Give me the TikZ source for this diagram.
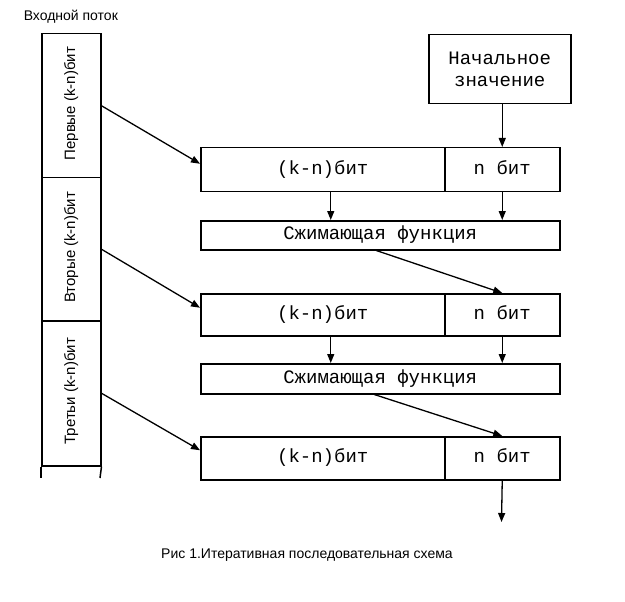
\documentclass[tikz,border=0pt]{standalone}
\usepackage{fontspec}
\setmainfont{Liberation Sans}
\newfontfamily\monofnt{Liberation Mono}
\usetikzlibrary{arrows.meta}
\begin{document}
\begin{tikzpicture}[x=1pt,y=-1pt,
  line width=1.5pt,
  arr/.style={line width=1.3pt,-{Triangle[length=9pt,width=7pt]}},
  seg/.style={draw,minimum width=59pt,inner sep=0pt,anchor=north west},
  rowbox/.style={draw,inner sep=0pt,anchor=north west,text height=13pt,text depth=4pt,font=\monofnt\fontsize{19}{22}\selectfont},
  sidelbl/.style={rotate=90,font=\fontsize{15}{17}\selectfont,inner sep=0pt},
  capt/.style={font=\fontsize{14}{16}\selectfont,inner sep=0pt}]
\useasboundingbox (0,0) rectangle (625,602);

% input stream column
\node[capt,anchor=west] (inlbl) at (23,17) {Входной поток};
\node[seg,minimum height=144pt] (s1) at (41,33) {};
\node[seg,minimum height=143pt] (s2) at (41,177) {};
\node[seg,minimum height=145pt] (s3) at (41,320) {};
\coordinate (tl) at (41,478);
\coordinate (tr) at (100,478);
\draw (s3.south west) -- (tl);
\draw (s3.south east) -- (tr);
\node[sidelbl] (l1) at ([yshift=2pt]s1.center) {Первые (k-n)бит};
\node[sidelbl] (l2) at ([yshift=2pt]s2.center) {Вторые (k-n)бит};
\node[sidelbl] (l3) at ([yshift=2pt]s3.center) {Третьи (k-n)бит};

% initial value
\node[draw,inner sep=0pt,anchor=north west,minimum width=142pt,minimum height=69pt,align=center,font=\monofnt\fontsize{19}{22}\selectfont] (init) at (428,34) {Начальное\\значение};

% row 1
\node[rowbox,minimum width=244pt,minimum height=44pt] (k1) at (200,147) {(k-n)бит};
\node[rowbox,minimum width=115pt,minimum height=44pt] (n1) at (444,147) {n бит};
\node[rowbox,minimum width=359pt,minimum height=29pt] (c1) at (200,220) {Сжимающая функция};
% row 2
\node[rowbox,minimum width=244pt,minimum height=42pt] (k2) at (200,293) {(k-n)бит};
\node[rowbox,minimum width=115pt,minimum height=42pt] (n2) at (444,293) {n бит};
\node[rowbox,minimum width=359pt,minimum height=30pt] (c2) at (200,363) {Сжимающая функция};
% row 3
\node[rowbox,minimum width=244pt,minimum height=43pt] (k3) at (200,436) {(k-n)бит};
\node[rowbox,minimum width=115pt,minimum height=43pt] (n3) at (444,436) {n бит};
\coordinate (out) at (501.5,522);

% arrows
\draw[arr] (n1.north |- init.south) -- (n1.north);
\draw[arr] (s1.east) -- ([yshift=6pt]k1.west);
\draw[arr] (s2.east) -- ([yshift=7pt]k2.west);
\draw[arr] (s3.east) -- ([yshift=8pt]k3.west);
\draw[arr] ([xshift=8pt]k1.south) -- ([xshift=8pt]k1.south |- c1.north);
\draw[arr] (n1.south) -- (n1.south |- c1.north);
\draw[arr] ([xshift=8pt]k2.south) -- ([xshift=8pt]k2.south |- c2.north);
\draw[arr] (n2.south) -- (n2.south |- c2.north);
\draw[arr] ([xshift=-4pt]c1.south) -- (n2.north);
\draw[arr] ([xshift=-6pt]c2.south) -- (n3.north);
\draw[arr] (n3.south) -- (out);

% caption
\node[capt] (cap) at (307,555) {Рис 1.Итеративная последовательная схема};
\end{tikzpicture}
\end{document}
